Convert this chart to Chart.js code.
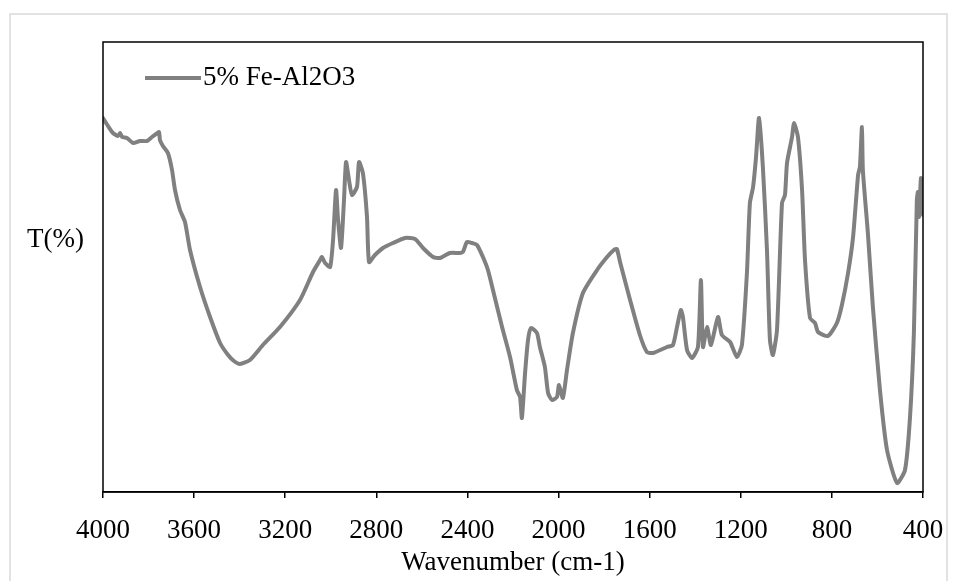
<!DOCTYPE html>
<html>
<head>
<meta charset="utf-8">
<script src="https://cdn.jsdelivr.net/npm/chart.js@4.4.1/dist/chart.umd.min.js"></script>
<style>
    html, body { margin: 0; padding: 0; background: #fff; }
    #wrap { position: relative; width: 957px; height: 581px; }
</style>
</head>
<body>
<div id="wrap"><canvas id="irChart" width="957" height="581"></canvas></div>
<script>
// FTIR spectrum, 5% Fe-Al2O3
const seriesLabel = "5% Fe-Al2O3";
const xTitle = "Wavenumber (cm-1)";
const yTitle = "T(%)";
const xTicks = [4000, 3600, 3200, 2800, 2400, 2000, 1600, 1200, 800, 400];

const wavenumber = [
    4000, 3978, 3956, 3934, 3925, 3916, 3895, 3868, 3838, 3807,
    3785, 3767, 3754, 3750, 3737, 3715, 3697, 3684, 3662, 3640,
    3618, 3574, 3530, 3486, 3451, 3425, 3399, 3355, 3298, 3223,
    3135, 3078, 3047, 3039, 3025, 3003, 2990, 2977, 2968, 2955,
    2942, 2933, 2920, 2907, 2885, 2876, 2859, 2841, 2832, 2806,
    2771, 2727, 2674, 2630, 2595, 2551, 2521, 2477, 2433, 2420,
    2402, 2380, 2358, 2332, 2310, 2288, 2248, 2213, 2183, 2169,
    2161, 2147, 2134, 2121, 2095, 2082, 2060, 2046, 2029, 2007,
    1998, 1981, 1963, 1937, 1893, 1831, 1787, 1757, 1744, 1730,
    1686, 1643, 1612, 1585, 1524, 1498, 1480, 1463, 1454, 1436,
    1414, 1388, 1375, 1366, 1348, 1331, 1300, 1283, 1247, 1217,
    1195, 1173, 1160, 1146, 1133, 1120, 1103, 1085, 1072, 1059,
    1041, 1019, 1006, 997, 975, 966, 949, 931, 918, 896,
    874, 861, 817, 778, 756, 729, 707, 685, 677, 668,
    664, 642, 620, 589, 558, 514, 479, 457, 440, 427,
    422, 418, 409, 404, 400
];
const transmittance = [
    74.8, 73.2, 71.8, 71.2, 71.8, 71.0, 70.8, 69.8, 70.2, 70.2,
    71.0, 71.6, 72.0, 70.4, 69.2, 67.8, 64.4, 60.4, 56.4, 54.0,
    48.4, 41.0, 35.0, 29.8, 27.4, 26.2, 25.6, 26.4, 29.4, 33.0,
    38.4, 44.0, 46.4, 47.0, 45.8, 45.0, 50.4, 60.4, 54.4, 48.8,
    58.4, 66.0, 62.4, 59.4, 61.0, 66.0, 63.8, 55.0, 46.0, 47.4,
    48.8, 49.8, 50.8, 50.6, 48.8, 47.0, 46.8, 47.8, 47.8, 48.0,
    50.0, 49.8, 49.4, 47.0, 44.4, 40.4, 33.0, 27.0, 20.4, 19.0,
    14.8, 23.8, 30.4, 32.8, 31.8, 29.0, 25.0, 19.8, 18.4, 19.0,
    21.4, 18.8, 24.4, 31.8, 39.8, 44.4, 47.0, 48.4, 48.6, 46.0,
    38.4, 31.4, 28.0, 27.8, 29.0, 29.4, 33.0, 36.4, 35.0, 28.4,
    26.8, 29.0, 42.4, 29.0, 33.0, 29.4, 35.0, 31.4, 30.0, 27.0,
    29.4, 43.8, 57.8, 61.0, 67.0, 74.8, 65.0, 48.4, 30.4, 27.4,
    32.4, 57.8, 59.4, 65.8, 71.0, 73.8, 71.0, 60.4, 46.4, 34.8,
    33.8, 32.0, 31.2, 33.8, 37.4, 43.8, 51.0, 63.4, 65.0, 73.0,
    64.4, 51.8, 37.0, 20.4, 8.4, 1.8, 4.4, 15.0, 31.8, 58.4,
    60.0, 55.0, 62.8, 61.0, 55.4
];

const lineColor = "#808080";
const serif = "'Liberation Serif', 'Times New Roman', serif";
const fontSize = 27;

// frame, outer border, axis titles and the in-plot legend
const decorPlugin = {
    id: "decor",
    beforeDraw(chart) {
        const ctx = chart.ctx;
        ctx.save();
        ctx.strokeStyle = "#d9d9d9";
        ctx.lineWidth = 1.5;
        ctx.beginPath();
        ctx.moveTo(10, 600);
        ctx.lineTo(10, 14);
        ctx.lineTo(947, 14);
        ctx.lineTo(947, 600);
        ctx.stroke();
        ctx.restore();
    },
    afterDraw(chart) {
        const { ctx, chartArea } = chart;
        ctx.save();
        ctx.strokeStyle = "#000";
        ctx.lineWidth = 1.5;
        ctx.strokeRect(chartArea.left, chartArea.top,
            chartArea.right - chartArea.left, chartArea.bottom - chartArea.top);

        ctx.fillStyle = "#000";
        ctx.font = fontSize + "px " + serif;
        ctx.textBaseline = "middle";
        ctx.textAlign = "left";
        ctx.fillText(yTitle, 27, 240);

        ctx.textAlign = "center";
        ctx.fillText(xTitle, (chartArea.left + chartArea.right) / 2, 563);

        // legend
        ctx.textAlign = "left";
        ctx.strokeStyle = lineColor;
        ctx.lineWidth = 4;
        ctx.beginPath();
        ctx.moveTo(145, 78);
        ctx.lineTo(201, 78);
        ctx.stroke();
        ctx.fillText(chart.data.datasets[0].label, 203, 78);
        ctx.restore();
    }
};

const points = wavenumber.map((w, i) => ({ x: w, y: transmittance[i] }));

new Chart(document.getElementById("irChart").getContext("2d"), {
    type: "line",
    data: {
        datasets: [{
            label: seriesLabel,
            data: points,
            borderColor: lineColor,
            borderWidth: 4,
            borderJoinStyle: "round",
            borderCapStyle: "round",
            pointRadius: 0,
            tension: 0.2,
            fill: false,
        }],
    },
    options: {
        responsive: false,
        animation: false,
        layout: { padding: { left: 103, right: 34, top: 42, bottom: 0 } },
        plugins: {
            legend: { display: false },
            tooltip: { enabled: false },
        },
        scales: {
            x: {
                type: "linear",
                reverse: true,
                min: 400,
                max: 4000,
                afterBuildTicks: (axis) => { axis.ticks = xTicks.map(v => ({ value: v })); },
                afterFit: (axis) => {
                    axis.height = 89;
                    axis.paddingLeft = 0;
                    axis.paddingRight = 0;
                },
                ticks: {
                    color: "#000",
                    font: { family: serif, size: fontSize },
                    padding: 17,
                    maxRotation: 0,
                    callback: (v) => String(v),
                },
                grid: {
                    drawOnChartArea: false,
                    drawTicks: true,
                    tickLength: 6,
                    color: "#000",
                    lineWidth: 1.5,
                },
                border: { display: true, color: "#000", width: 1.5 },
            },
            y: {
                display: false,
                min: 0,
                max: 90,
            },
        },
    },
    plugins: [decorPlugin],
});
</script>
</body>
</html>
